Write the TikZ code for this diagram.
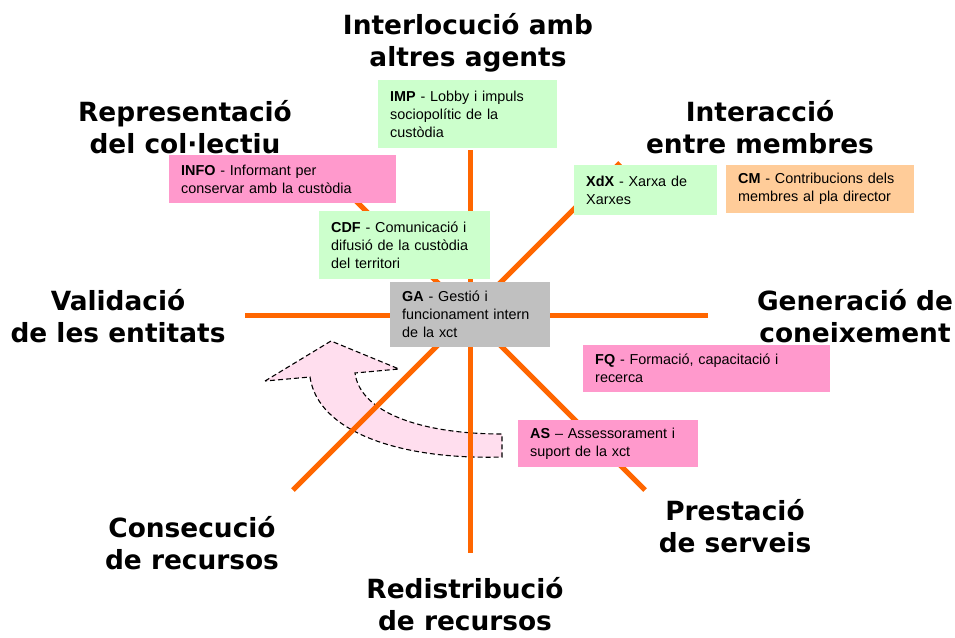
\documentclass[tikz,border=0pt]{standalone}
\usepackage{fontspec}
\setmainfont{Liberation Sans}
\newfontfamily\headfont{DejaVu Sans}
\definecolor{spoke}{RGB}{255,102,0}
\definecolor{bgreen}{RGB}{204,255,204}
\definecolor{bpink}{RGB}{255,153,204}
\definecolor{bgray}{RGB}{192,192,192}
\definecolor{borange}{RGB}{255,204,153}
\definecolor{arrowfill}{RGB}{255,222,238}
\begin{document}
\begin{tikzpicture}[x=1pt,y=-1pt,
  spokeline/.style={draw=spoke,line width=5pt},
  head/.style={font=\headfont\bfseries\fontsize{26.4}{32}\selectfont,align=center,inner sep=0pt},
  box/.style={anchor=north west,inner xsep=12pt,inner ysep=0pt,align=left,
    font=\fontsize{14.4}{18}\selectfont},
  curvearrow/.style={draw=black,dash pattern=on 5pt off 3pt,line width=1.1pt,fill=arrowfill}]
\useasboundingbox (0,0) rectangle (955,637);
% curved arrow
\path[curvearrow] (265,381) -- (331,341) -- (399,369) -- (355,373)
  .. controls (360,412) and (420,434) .. (502,434) -- (502,457)
  .. controls (400,460) and (318,432) .. (310,377) -- cycle;
% spokes
\coordinate (c) at (470,315);
\coordinate (eW) at (245,315);
\coordinate (eE) at (708,315);
\coordinate (eN) at (470,150);
\coordinate (eS) at (470,553);
\coordinate (eSW) at (293,490);
\coordinate (eNE) at (620,163);
\coordinate (eNW) at (350,195);
\coordinate (eSE) at (645,490);
\draw[spokeline] (eW) -- (eE);
\draw[spokeline] (eN) -- (eS);
\draw[spokeline] (eSW) -- (eNE);
\draw[spokeline] (eNW) -- (eSE);
% headings
\node[head] (hN) at (468,43) {Interlocució amb\\altres agents};
\node[head] (hNW) at (185,127) {Representació\\del col·lectiu};
\node[head] (hNE) at (760,127) {Interacció\\entre membres};
\node[head] (hW) at (118,316) {Validació\\de les entitats};
\node[head] (hE) at (855,316) {Generació de\\coneixement};
\node[head] (hSW) at (192,543) {Consecució\\de recursos};
\node[head] (hSE) at (735,526) {Prestació\\de serveis};
\node[head] (hS) at (465,604) {Redistribució\\de recursos};
% boxes
\node[box,fill=bgreen,minimum width=179pt,minimum height=68pt,text width=155pt] (imp) at (378,80)
  {\textbf{IMP} - Lobby i impuls\\sociopolític de la\\custòdia};
\node[box,fill=bpink,minimum width=227pt,minimum height=48pt,text width=203pt] (info) at (169,155)
  {\textbf{INFO} - Informant per\\conservar amb la custòdia};
\node[box,fill=bgreen,minimum width=171pt,minimum height=68pt,text width=147pt] (cdf) at (319,211)
  {\textbf{CDF} - Comunicació i\\difusió de la custòdia\\del territori};
\node[box,fill=bgray,minimum width=160pt,minimum height=65pt,text width=136pt] (ga) at (390,282)
  {\textbf{GA} - Gestió i\\funcionament intern\\de la xct};
\node[box,fill=bgreen,minimum width=143pt,minimum height=50pt,text width=119pt] (xdx) at (574,165)
  {\textbf{XdX} - Xarxa de\\Xarxes};
\node[box,fill=borange,minimum width=188pt,minimum height=48pt,text width=164pt] (cm) at (726,165)
  {\textbf{CM} - Contribucions dels\\membres al pla director};
\node[box,fill=bpink,minimum width=247pt,minimum height=47pt,text width=223pt] (fq) at (583,345)
  {\textbf{FQ} - Formació, capacitació i\\recerca};
\node[box,fill=bpink,minimum width=180pt,minimum height=47pt,text width=156pt] (as) at (518,420)
  {\textbf{AS} – Assessorament i\\suport de la xct};
\end{tikzpicture}
\end{document}
